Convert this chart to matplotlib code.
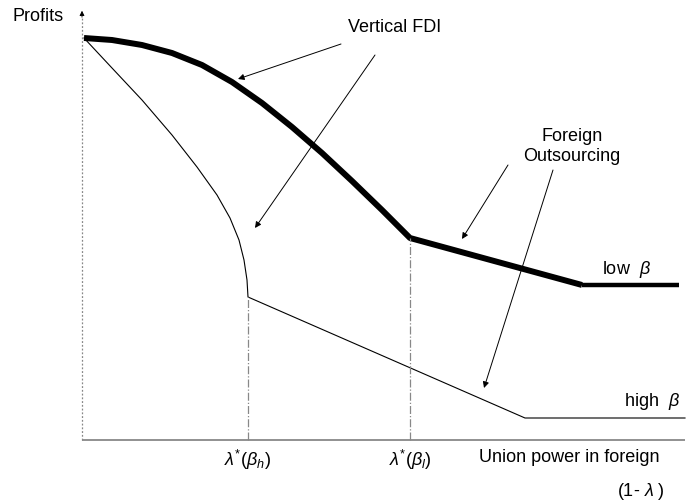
import matplotlib
matplotlib.use("Agg")
import matplotlib.pyplot as plt

plt.rcParams['font.family'] = ['Liberation Sans', 'DejaVu Sans']
plt.rcParams['mathtext.fontset'] = 'custom'
plt.rcParams['mathtext.rm'] = 'Liberation Sans'
plt.rcParams['mathtext.it'] = 'Liberation Sans:italic'

# Data (origin at the axes corner)
low_beta_x = [2, 30, 60, 90, 120, 150, 180, 210, 240, 270, 300, 328, 500]
low_beta_y = [402, 400, 395, 387, 375, 358, 337, 313, 287, 259, 230, 202, 155]
low_flat_x = [500, 597]
low_flat_y = [155, 155]

high_beta_x = [2, 30, 60, 90, 115, 135, 148, 157, 162, 165, 166, 443, 603]
high_beta_y = [402, 372, 340, 305, 273, 245, 222, 200, 180, 160, 143, 22, 22]

lambda_h = 166   # kink of high-beta curve
lambda_l = 328   # kink of low-beta curve
kink_h_y = 143
kink_l_y = 202

tick_labels = [r'$\lambda^{*}(\beta_h)$', r'$\lambda^{*}(\beta_l)$']

fig = plt.figure(figsize=(6.86, 5.04), dpi=100)
ax = fig.add_axes([0, 0, 1, 1])
ax.set_xlim(-82, 604)
ax.set_ylim(-64, 440)
ax.axis('off')

# axes
ax.plot([0, 603], [0, 0], color='#888888', lw=1.3, solid_capstyle='butt')
ax.plot([0, 0], [0, 422], color='#888888', lw=0.9, ls=(0, (1.5, 1.5)))
ax.annotate('', xy=(0, 432), xytext=(0, 420),
            arrowprops=dict(arrowstyle='-|>', color='black', lw=0.6, mutation_scale=7))

# curves
ax.plot(low_beta_x, low_beta_y, color='black', lw=4.3,
        solid_joinstyle='round', solid_capstyle='butt')
ax.plot(low_flat_x, low_flat_y, color='black', lw=3.2, solid_capstyle='butt')
ax.plot(high_beta_x, high_beta_y, color='black', lw=0.8, solid_joinstyle='round')

# dash-dot guides
ax.plot([lambda_h, lambda_h], [0, kink_h_y], color='#888888', lw=0.9, ls='-.')
ax.plot([lambda_l, lambda_l], [0, kink_l_y], color='#888888', lw=0.9, ls='-.')

# arrows
arrows = [((259, 396), (156, 361)),
          ((293, 385), (173, 212)),
          ((426, 275), (380, 201)),
          ((471, 270), (402, 52))]
for start, end in arrows:
    ax.annotate('', xy=end, xytext=start,
                arrowprops=dict(arrowstyle='-|>', color='black', lw=0.7,
                                mutation_scale=9, shrinkA=0, shrinkB=0))

fs = 13
ax.text(-70, 419, 'Profits', fontsize=fs, ha='left', va='baseline')
ax.text(313, 408, 'Vertical FDI', fontsize=fs, ha='center', va='baseline')
ax.text(490, 299, 'Foreign', fontsize=fs, ha='center', va='baseline')
ax.text(490, 279, 'Outsourcing', fontsize=fs, ha='center', va='baseline')
ax.text(520, 166, r'low  $\beta$', fontsize=fs, ha='left', va='baseline')
ax.text(542, 34, r'high  $\beta$', fontsize=fs, ha='left', va='baseline')
ax.text(397, -22, 'Union power in foreign', fontsize=fs, ha='left', va='baseline')
ax.text(535, -56, r'(1- $\lambda$ )', fontsize=fs, ha='left', va='baseline')
ax.text(lambda_h, -20, tick_labels[0], fontsize=fs, ha='center', va='center')
ax.text(lambda_l, -20, tick_labels[1], fontsize=fs, ha='center', va='center')

fig.savefig('out.png', dpi=100)
